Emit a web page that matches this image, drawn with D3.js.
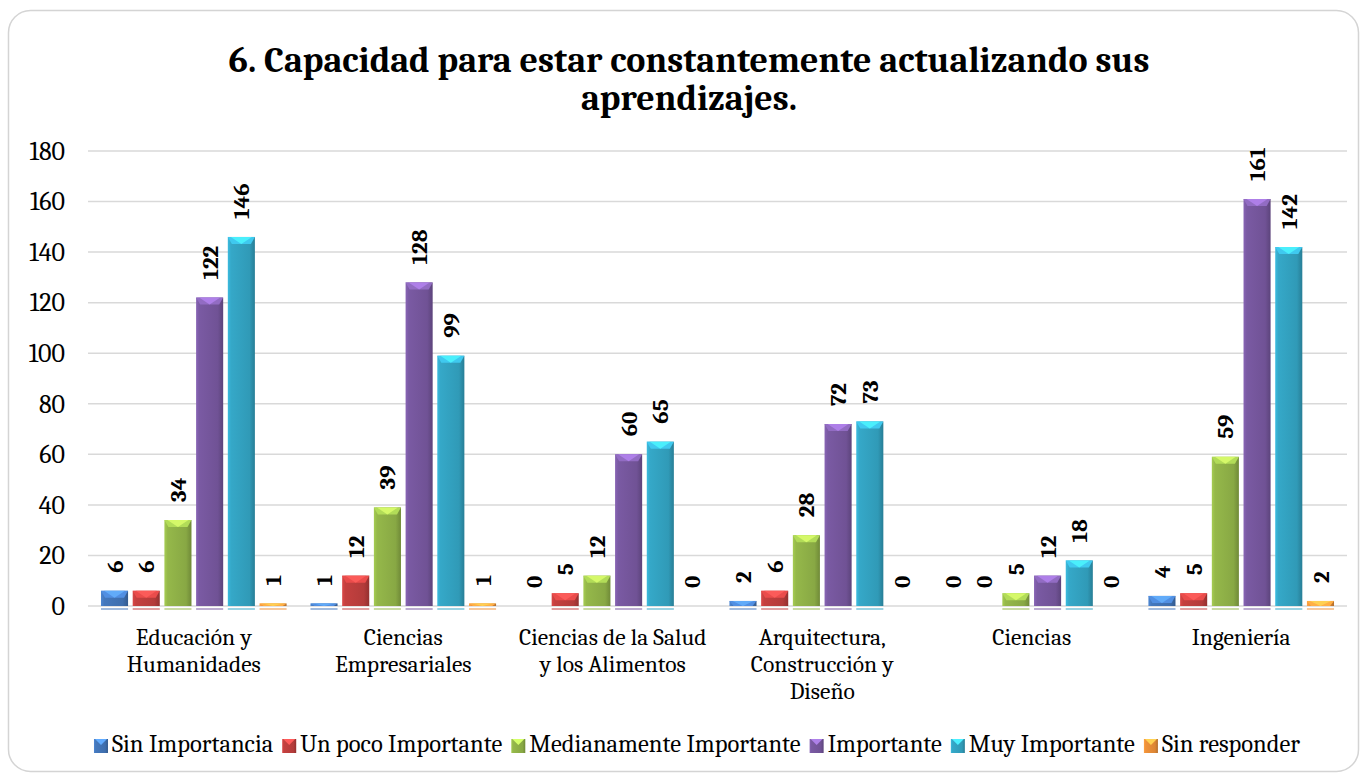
<!DOCTYPE html>
<html>
<head>
<meta charset="utf-8">
<script src="https://cdn.jsdelivr.net/npm/d3@7"></script>
<style>
  body { margin: 0; background: #fff; }
</style>
</head>
<body>
<script>
// data
var categories = [
  ["Educación y", "Humanidades"],
  ["Ciencias", "Empresariales"],
  ["Ciencias de la Salud", "y los Alimentos"],
  ["Arquitectura,", "Construcción y", "Diseño"],
  ["Ciencias"],
  ["Ingeniería"]
];
var seriesNames = ["Sin Importancia", "Un poco Importante", "Medianamente Importante", "Importante", "Muy Importante", "Sin responder"];
var sinImportancia = [6, 1, 0, 2, 0, 4];
var unPoco = [6, 12, 5, 6, 0, 5];
var medianamente = [34, 39, 12, 28, 5, 59];
var importante = [122, 128, 60, 72, 12, 161];
var muyImportante = [146, 99, 65, 73, 18, 142];
var sinResponder = [1, 1, 0, 0, 0, 2];
var yTicks = [0, 20, 40, 60, 80, 100, 120, 140, 160, 180];
var colors = ["#4478bd", "#c4403f", "#95b84a", "#7a5aa3", "#35a8c8", "#f0923a"];

var FONT = "Caladea, Cambria, 'Liberation Serif', serif";
var seriesValues = [sinImportancia, unPoco, medianamente, importante, muyImportante, sinResponder];
var catKeys = categories.map(function(c){ return c.join(" "); });

var svgWidth = 1367, svgHeight = 781;
var margin = {top: 151, bottom: 175, left: 88, right: 20};
var height = svgHeight - margin.top - margin.bottom;
var width = svgWidth - margin.left - margin.right;

var svg = d3.select("body").append("svg")
  .attr("width", svgWidth)
  .attr("height", svgHeight);

// chart border
svg.append("rect")
  .attr("x", 8.5).attr("y", 10.5)
  .attr("width", 1350).attr("height", 761)
  .attr("rx", 22)
  .attr("fill", "#fff")
  .attr("stroke", "#d4d4d4")
  .attr("stroke-width", 1.5);

// gradients
var defs = svg.append("defs");
colors.forEach(function(c, i){
  var base = d3.color(c);
  var g = defs.append("linearGradient").attr("id", "grad" + i)
    .attr("x1", 0).attr("x2", 1).attr("y1", 0).attr("y2", 0);
  g.append("stop").attr("offset", 0).attr("stop-color", base.brighter(0.3));
  g.append("stop").attr("offset", 0.12).attr("stop-color", base);
  g.append("stop").attr("offset", 0.8).attr("stop-color", base.darker(0.25));
  g.append("stop").attr("offset", 1).attr("stop-color", base.darker(0.8));
});

var chartGroup = svg.append("g")
  .attr("transform", "translate(" + margin.left + "," + margin.top + ")");

var x0 = d3.scaleBand().domain(catKeys).range([0, width]).paddingInner(0.114).paddingOuter(0.062);
var x1 = d3.scaleBand().domain(d3.range(seriesNames.length)).range([0, x0.bandwidth()]).paddingInner(0.146);
var y = d3.scaleLinear().domain([0, 180]).range([height, 0]);

// gridlines
chartGroup.append("g")
  .selectAll("line")
  .data(yTicks)
  .enter()
  .append("line")
  .attr("x1", 0).attr("x2", width)
  .attr("y1", d => y(d)).attr("y2", d => y(d))
  .attr("stroke", "#d9d9d9")
  .attr("stroke-width", 1.5);

// y axis labels
var leftAxis = d3.axisLeft(y).tickValues(yTicks).tickSize(0).tickPadding(23);
var yAxisG = chartGroup.append("g").call(leftAxis);
yAxisG.select(".domain").remove();
yAxisG.selectAll("text")
  .style("font-family", FONT)
  .style("font-size", "26px")
  .attr("fill", "#000");

// bars
var rows = [];
seriesValues.forEach(function(vals, s){
  vals.forEach(function(v, c){
    rows.push({s: s, c: catKeys[c], v: v});
  });
});

var bw = x1.bandwidth();
var barG = chartGroup.selectAll(".bar")
  .data(rows)
  .enter()
  .append("g")
  .attr("class", "bar")
  .attr("transform", d => "translate(" + (x0(d.c) + x1(d.s)) + ",0)");

// reflection line under the axis
barG.filter(d => d.v > 0).append("rect")
  .attr("x", 0).attr("width", bw)
  .attr("y", height + 2).attr("height", 2)
  .attr("fill", d => colors[d.s])
  .attr("opacity", 0.5);

barG.filter(d => d.v > 0).append("rect")
  .attr("x", 0).attr("width", bw)
  .attr("y", d => y(d.v))
  .attr("height", d => height - y(d.v))
  .attr("fill", d => "url(#grad" + d.s + ")");

// bevel on top of bars
barG.filter(d => d.v > 0).append("path")
  .attr("d", function(d){
    var t = y(d.v);
    var h = Math.min(7, height - t);
    return "M0," + t + "L" + bw + "," + t + "L" + (bw - 4) + "," + (t + h) + "L4," + (t + h) + "Z";
  })
  .attr("fill", d => d3.color(colors[d.s]).brighter(0.5));

barG.filter(d => d.v > 0).append("path")
  .attr("d", function(d){
    var t = y(d.v);
    var h = Math.min(7, height - t);
    return "M3," + t + "L" + (bw - 3) + "," + t + "L" + (bw / 2) + "," + (t + h) + "Z";
  })
  .attr("fill", d => d3.color(colors[d.s]).brighter(1.1))
  .attr("opacity", 0.8);

// value labels
barG.append("text")
  .attr("transform", d => "translate(" + (bw / 2) + "," + (y(d.v) - 18) + ") rotate(-90)")
  .attr("dy", "0.35em")
  .style("font-family", FONT)
  .style("font-size", "23px")
  .style("font-weight", "bold")
  .text(d => d.v);

// category labels
var catG = chartGroup.selectAll(".cat")
  .data(categories)
  .enter()
  .append("text")
  .attr("class", "cat")
  .attr("text-anchor", "middle")
  .style("font-family", FONT)
  .style("font-size", "23.5px");
catG.selectAll("tspan")
  .data((d, i) => d.map(function(line){ return {line: line, i: i}; }))
  .enter()
  .append("tspan")
  .attr("x", d => x0(catKeys[d.i]) + x0.bandwidth() / 2)
  .attr("y", (d, j) => height + 39 + j * 27)
  .text(d => d.line);

// title
var title = svg.append("text")
  .attr("text-anchor", "middle")
  .style("font-family", FONT)
  .style("font-size", "36px")
  .style("font-weight", "bold");
title.append("tspan").attr("x", 689).attr("y", 72).text("6. Capacidad para estar constantemente actualizando sus");
title.append("tspan").attr("x", 689).attr("y", 110).text("aprendizajes.");

// legend
var legend = svg.append("g");
var lx = 0;
seriesNames.forEach(function(name, i){
  var item = legend.append("g").attr("transform", "translate(" + lx + ",0)");
  item.append("rect")
    .attr("x", 0).attr("y", -13)
    .attr("width", 14).attr("height", 14)
    .attr("fill", "url(#grad" + i + ")");
  item.append("path")
    .attr("d", "M1,-13L13,-13L7,-7Z")
    .attr("fill", d3.color(colors[i]).brighter(1.0));
  var t = item.append("text")
    .attr("x", 18).attr("y", 0)
    .style("font-family", FONT)
    .style("font-size", "24.5px")
    .text(name);
  lx += 18 + t.node().getComputedTextLength() + 9;
});
lx -= 9;
legend.attr("transform", "translate(" + (697 - lx / 2) + ",752)");
</script>
</body>
</html>
